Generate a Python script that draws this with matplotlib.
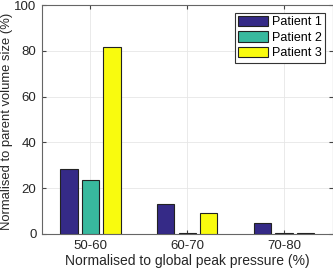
import numpy as np
import matplotlib.pyplot as plt

plt.rcParams['font.family'] = ['Liberation Sans', 'DejaVu Sans']

# data
groups = ['50-60', '60-70', '70-80']
patient1 = [28.3, 13.2, 4.7]
patient2 = [23.4, 0.3, 0.3]
patient3 = [81.7, 9.0, 0.3]
names = ['Patient 1', 'Patient 2', 'Patient 3']
colors = ['#352a87', '#38b99e', '#f9fb0e']

fig = plt.figure(figsize=(3.33, 2.73), dpi=100)
ax = fig.add_axes([42/333, 39/273, 290.5/333, 229/273])

x = np.arange(1, len(groups) + 1)
w = 0.18
off = 0.222
for i, (vals, name, c) in enumerate(zip([patient1, patient2, patient3], names, colors)):
    ax.bar(x + (i - 1) * off, vals, w, color=c, edgecolor='#222222', linewidth=0.8,
           label=name, zorder=3)

ax.set_xlim(0.5, 3.5)
ax.set_ylim(0, 100)
ax.set_xticks(x)
ax.set_xticklabels(groups)
ax.set_yticks([0, 20, 40, 60, 80, 100])
ax.grid(True, color='#e6e6e6', linewidth=0.6, zorder=0)
ax.tick_params(direction='in', top=True, right=True, labelsize=9.5, length=3,
               color='#444444', labelcolor='#262626', pad=4)
for s in ax.spines.values():
    s.set_color('#666666')
    s.set_linewidth(0.8)

ax.set_xlabel('Normalised to global peak pressure (%)', fontsize=10, color='#262626', labelpad=2)
ax.set_ylabel('Normalised to parent volume size (%)', fontsize=9.4, color='#262626')
ax.yaxis.set_label_coords(-29/290.5, 0.49)

leg = ax.legend(loc='upper right', fontsize=9, fancybox=False, handlelength=2.4,
                handleheight=0.9, handletextpad=0.3, borderpad=0.25, labelspacing=0.25,
                borderaxespad=0.6, framealpha=1)
leg.get_frame().set_edgecolor('#333333')
leg.get_frame().set_linewidth(0.8)

fig.savefig('out.png', dpi=100)
